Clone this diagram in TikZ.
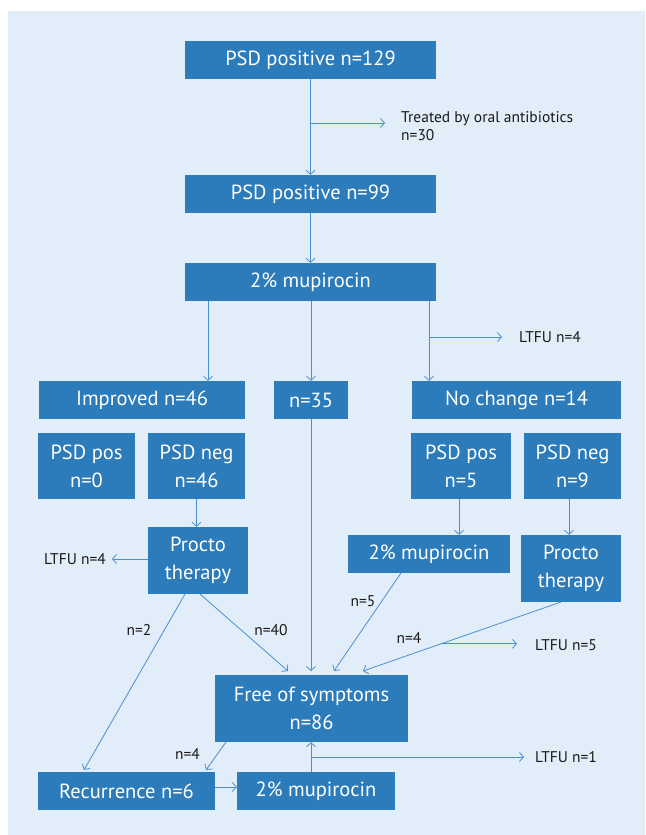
\documentclass[tikz,border=0pt]{standalone}
\usepackage{fontspec}
\setmainfont{PT Sans}
\usetikzlibrary{arrows.meta}
\definecolor{bgblue}{HTML}{E2EDFA}
\definecolor{boxblue}{HTML}{2C7BBB}
\definecolor{lineblue}{HTML}{4A8FCF}
\begin{document}
\begin{tikzpicture}[x=1pt,y=-1pt,
  box/.style={fill=boxblue,text=white,inner sep=0pt,align=center,font=\fontsize{20.5}{28}\selectfont},
  flow/.style={draw=lineblue,line width=0.8pt,-{Straight Barb[length=4pt,width=9pt]}},
  lbl/.style={font=\fontsize{15.5}{18}\selectfont,text=black!90,inner sep=0pt,align=left}]
\useasboundingbox (0,0) rectangle (645,835);
\fill[bgblue] (8,11) rectangle (645,835);

% boxes
\node[box,minimum width=251pt,minimum height=38pt] (b129) at (310.5,60) {PSD positive n=129};
\node[box,minimum width=251pt,minimum height=38pt] (b99) at (310.5,194) {PSD positive n=99};
\node[box,minimum width=251pt,minimum height=38pt] (mup1) at (310.5,282) {2\% mupirocin};
\node[box,minimum width=206pt,minimum height=38pt] (impr) at (142,400) {Improved n=46};
\node[box,minimum width=74pt,minimum height=38pt] (n35) at (311,400) {n=35};
\node[box,minimum width=209pt,minimum height=38pt] (noch) at (516.5,400) {No change n=14};
\node[box,minimum width=97pt,minimum height=66pt] (pos0) at (86.5,466) {PSD pos\\n=0};
\node[box,minimum width=97pt,minimum height=66pt] (neg46) at (196.5,466) {PSD neg\\n=46};
\node[box,minimum width=100pt,minimum height=66pt] (pos5) at (461,466) {PSD pos\\n=5};
\node[box,minimum width=97pt,minimum height=66pt] (neg9) at (572.5,466) {PSD neg\\n=9};
\node[box,minimum width=100pt,minimum height=67pt] (proctoL) at (198,560.5) {Procto\\therapy};
\node[box,minimum width=162pt,minimum height=38pt] (mup2) at (429,554) {2\% mupirocin};
\node[box,minimum width=100pt,minimum height=67pt] (proctoR) at (571,568.5) {Procto\\therapy};
\node[box,minimum width=193pt,minimum height=67pt] (free) at (311.5,708.5) {Free of symptoms\\n=86};
\node[box,minimum width=177pt,minimum height=38pt] (recur) at (126.5,791) {Recurrence n=6};
\node[box,minimum width=158pt,minimum height=38pt] (mup3) at (316,791) {2\% mupirocin};

% side labels
\node[lbl,anchor=west] (oral) at (401,126) {Treated by oral antibiotics\\n=30};
\node[lbl,anchor=west] (ltfu4a) at (519,337) {LTFU n=4};
\node[lbl,anchor=east] (ltfu4b) at (106,559) {LTFU n=4};
\node[lbl,anchor=west] (ltfu5) at (535,645) {LTFU n=5};
\node[lbl,anchor=west] (ltfu1) at (535,757) {LTFU n=1};
\node[lbl] (l2) at (139,630) {n=2};
\node[lbl] (l40) at (271,630) {n=40};
\node[lbl] (l5) at (363,601) {n=5};
\node[lbl] (l4r) at (409,638) {n=4};
\node[lbl] (l4b) at (187.5,754) {n=4};

% helper coordinates
\coordinate (xa) at (208,0);
\coordinate (xb) at (311,0);
\coordinate (xc) at (429,0);
\coordinate (xd) at (196.5,0);
\coordinate (xe) at (459,0);
\coordinate (xf) at (569,0);
\coordinate (br1) at (310.5,123);
\coordinate (t1) at (385,123);
\coordinate (br2) at (429,337);
\coordinate (t2) at (502,337);
\coordinate (t3) at (112,559);
\coordinate (br4) at (441,643.8);
\coordinate (t4) at (517,643.8);
\coordinate (br5) at (311,757);
\coordinate (t5) at (524,757);
\coordinate (pl1) at (185,594);
\coordinate (rc1) at (84,770);
\coordinate (pl2) at (200,594);
\coordinate (fr1) at (288,671);
\coordinate (fr2) at (311,671);
\coordinate (mp1) at (401,573);
\coordinate (fr3) at (334,671);
\coordinate (pr1) at (561,602);
\coordinate (fr4) at (363,671);
\coordinate (fs1) at (226,742);
\coordinate (rc2) at (206,770);

% connectors
\draw[flow] (b129.south) -- (b99.north);
\draw[flow] (br1) -- (t1);
\draw[flow] (b99.south) -- (mup1.north);
\draw[flow] (mup1.south -| xa) -- (impr.north -| xa);
\draw[flow] (mup1.south -| xb) -- (n35.north -| xb);
\draw[flow] (mup1.south -| xc) -- (noch.north -| xc);
\draw[flow] (br2) -- (t2);
\draw[flow] (neg46.south -| xd) -- (proctoL.north -| xd);
\draw[flow] (pos5.south -| xe) -- (mup2.north -| xe);
\draw[flow] (neg9.south -| xf) -- (proctoR.north -| xf);
\draw[flow] (proctoL.west |- t3) -- (t3);
\draw[flow] (pl1) -- (rc1);
\draw[flow] (pl2) -- (fr1);
\draw[flow] (n35.south) -- (fr2);
\draw[flow] (mp1) -- (fr3);
\draw[flow] (pr1) -- (fr4);
\draw[flow] (br4) -- (t4);
\draw[flow] (fs1) -- (rc2);
\draw[flow] (recur.east |- 0,787) -- (mup3.west |- 0,787);
\draw[flow] (mup3.north -| xb) -- (free.south -| xb);
\draw[flow] (br5) -- (t5);
\end{tikzpicture}
\end{document}
